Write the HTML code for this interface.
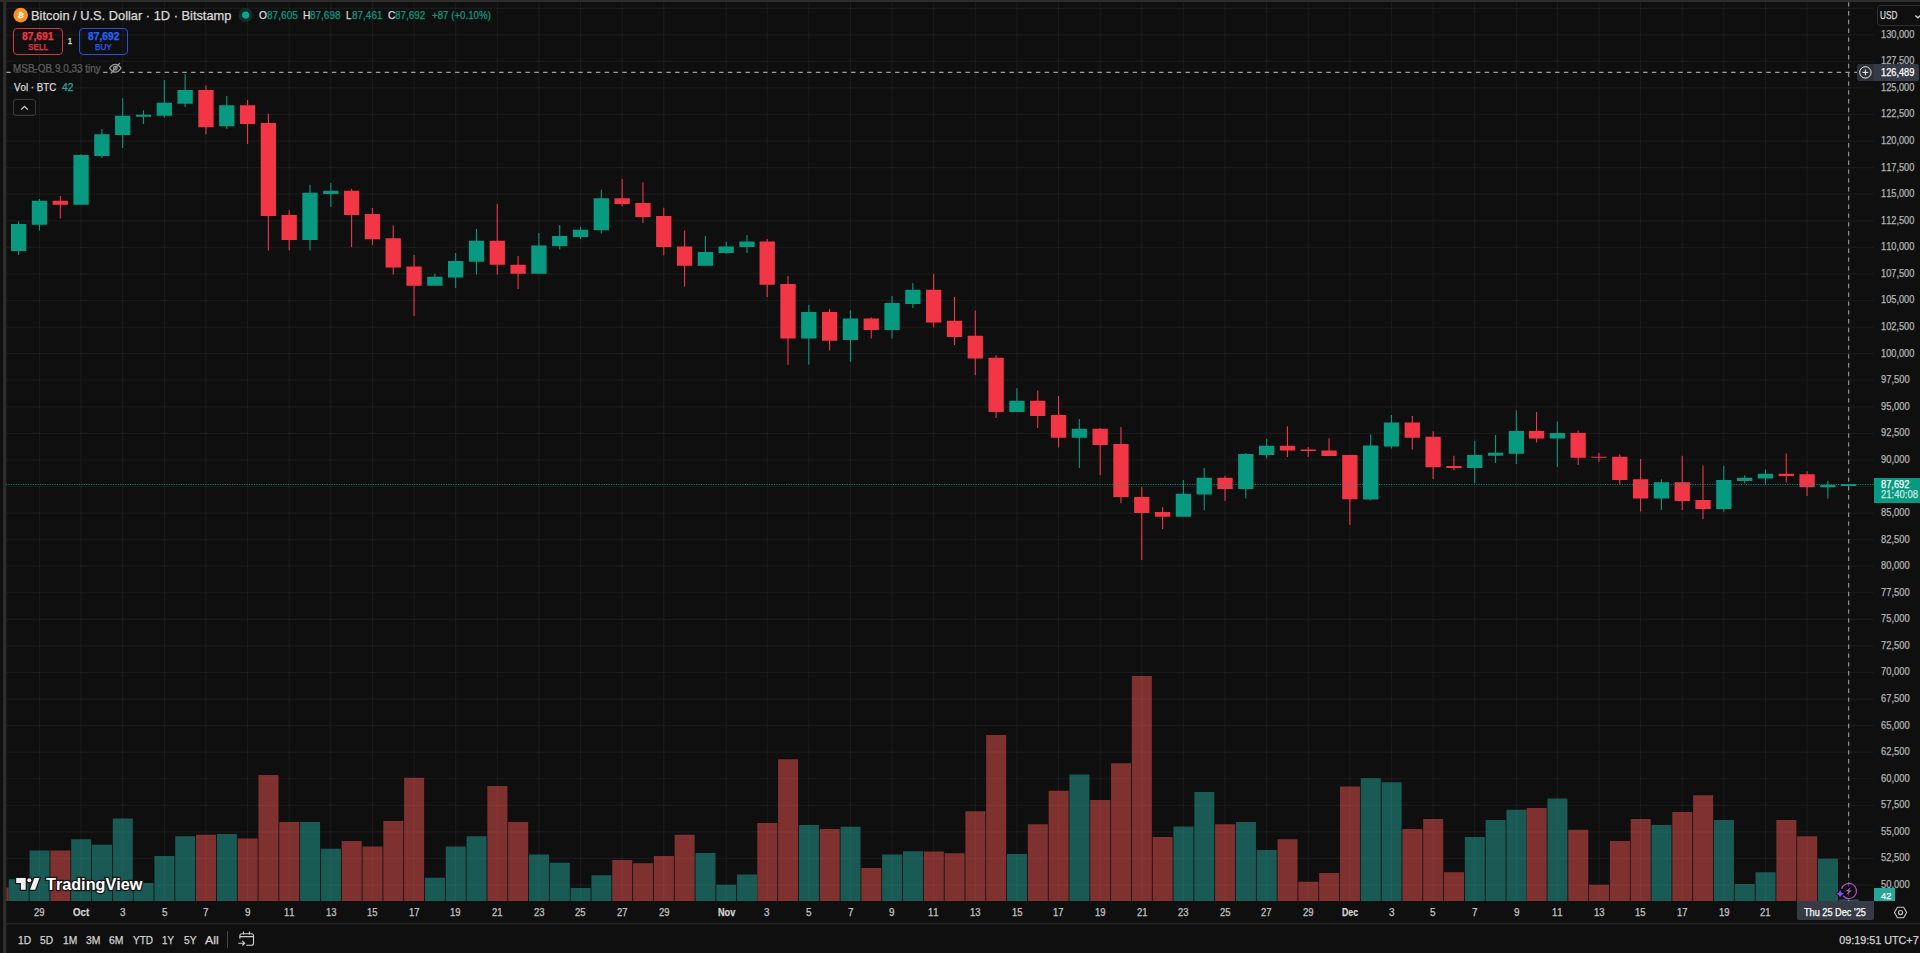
<!DOCTYPE html>
<html lang="en">
<head>
<meta charset="utf-8">
<title>BTCUSD 87,692 — Bitcoin / U.S. Dollar</title>
<style>
html,body{margin:0;padding:0;background:#0f0f0f;}
body{width:1920px;height:953px;overflow:hidden;position:relative;font-family:"Liberation Sans",sans-serif;}
.chart{position:absolute;left:0;top:0;display:block;}
.t{position:absolute;white-space:nowrap;line-height:16px;height:16px;font-kerning:none;transform-origin:0 50%;-webkit-text-stroke:0.25px currentColor;}
.box{position:absolute;box-sizing:border-box;}
svg.ic{position:absolute;overflow:visible;}
</style>
</head>
<body>
<svg class="chart" width="1920" height="953" viewBox="0 0 1920 953">
<rect x="0" y="0" width="1920" height="953" fill="#0f0f0f"/>
<path d="M6.3 8.40H1873.5 M6.3 34.80H1873.5 M6.3 61.37H1873.5 M6.3 87.94H1873.5 M6.3 114.51H1873.5 M6.3 141.08H1873.5 M6.3 167.65H1873.5 M6.3 194.22H1873.5 M6.3 220.79H1873.5 M6.3 247.36H1873.5 M6.3 273.93H1873.5 M6.3 300.50H1873.5 M6.3 327.07H1873.5 M6.3 353.64H1873.5 M6.3 380.21H1873.5 M6.3 406.78H1873.5 M6.3 433.35H1873.5 M6.3 459.92H1873.5 M6.3 486.49H1873.5 M6.3 513.06H1873.5 M6.3 539.63H1873.5 M6.3 566.20H1873.5 M6.3 592.77H1873.5 M6.3 619.34H1873.5 M6.3 645.91H1873.5 M6.3 672.48H1873.5 M6.3 699.05H1873.5 M6.3 725.62H1873.5 M6.3 752.19H1873.5 M6.3 778.76H1873.5 M6.3 805.33H1873.5 M6.3 831.90H1873.5 M6.3 858.47H1873.5 M6.3 885.04H1873.5" stroke="#fff" stroke-opacity="0.046" stroke-width="1.2" fill="none"/>
<path d="M39.46 2V901 M81.08 2V901 M122.70 2V901 M164.32 2V901 M205.94 2V901 M247.56 2V901 M289.18 2V901 M330.80 2V901 M372.42 2V901 M414.04 2V901 M455.66 2V901 M497.28 2V901 M538.90 2V901 M580.52 2V901 M622.14 2V901 M663.76 2V901 M726.19 2V901 M767.19 2V901 M808.81 2V901 M850.43 2V901 M892.05 2V901 M933.67 2V901 M975.29 2V901 M1016.91 2V901 M1058.53 2V901 M1100.15 2V901 M1141.77 2V901 M1183.39 2V901 M1225.01 2V901 M1266.63 2V901 M1308.25 2V901 M1349.87 2V901 M1391.49 2V901 M1433.11 2V901 M1474.73 2V901 M1516.35 2V901 M1557.35 2V901 M1598.97 2V901 M1640.59 2V901 M1682.21 2V901 M1723.83 2V901 M1765.45 2V901 M1807.07 2V901 M1848.69 2V901" stroke="#fff" stroke-opacity="0.046" stroke-width="1.2" fill="none"/>
<path d="M8.75 879.3H28.75V901H8.75Z M29.56 850.6H49.56V901H29.56Z M71.18 839.3H91.18V901H71.18Z M91.99 844.8H111.99V901H91.99Z M112.80 818.6H132.80V901H112.80Z M133.61 883.1H153.61V901H133.61Z M154.42 856.1H174.42V901H154.42Z M175.23 836.2H195.23V901H175.23Z M216.85 834.0H236.85V901H216.85Z M300.09 821.9H320.09V901H300.09Z M320.90 848.8H340.90V901H320.90Z M424.95 877.8H444.95V901H424.95Z M445.76 846.6H465.76V901H445.76Z M466.57 836.2H486.57V901H466.57Z M529.00 854.4H549.00V901H529.00Z M549.81 862.7H569.81V901H549.81Z M570.62 887.9H590.62V901H570.62Z M591.43 875.3H611.43V901H591.43Z M695.48 852.9H715.48V901H695.48Z M716.29 884.8H736.29V901H716.29Z M737.10 874.5H757.10V901H737.10Z M798.91 824.9H818.91V901H798.91Z M840.53 826.7H860.53V901H840.53Z M882.15 854.6H902.15V901H882.15Z M902.96 851.3H922.96V901H902.96Z M1007.01 853.9H1027.01V901H1007.01Z M1069.44 774.6H1089.44V901H1069.44Z M1173.49 826.5H1193.49V901H1173.49Z M1194.30 792.0H1214.30V901H1194.30Z M1235.92 821.9H1255.92V901H1235.92Z M1256.73 849.9H1276.73V901H1256.73Z M1360.78 778.3H1380.78V901H1360.78Z M1381.59 782.3H1401.59V901H1381.59Z M1464.83 837.0H1484.83V901H1464.83Z M1485.64 820.1H1505.64V901H1485.64Z M1506.45 809.8H1526.45V901H1506.45Z M1547.45 798.5H1567.45V901H1547.45Z M1651.50 824.9H1671.50V901H1651.50Z M1713.93 820.1H1733.93V901H1713.93Z M1734.74 884.1H1754.74V901H1734.74Z M1755.55 872.2H1775.55V901H1755.55Z M1817.98 858.7H1837.98V901H1817.98Z M1838.79 899.4H1858.79V901H1838.79Z" fill="#26a69a" fill-opacity="0.5"/>
<path d="M6.3 887.6H8.6V901H6.3Z M50.37 850.6H70.37V901H50.37Z M196.04 834.7H216.04V901H196.04Z M237.66 838.5H257.66V901H237.66Z M258.47 775.0H278.47V901H258.47Z M279.28 821.9H299.28V901H279.28Z M341.71 841.0H361.71V901H341.71Z M362.52 846.6H382.52V901H362.52Z M383.33 820.9H403.33V901H383.33Z M404.14 777.8H424.14V901H404.14Z M487.38 785.9H507.38V901H487.38Z M508.19 821.9H528.19V901H508.19Z M612.24 859.9H632.24V901H612.24Z M633.05 863.2H653.05V901H633.05Z M653.86 856.1H673.86V901H653.86Z M674.67 834.7H694.67V901H674.67Z M757.29 823.1H777.29V901H757.29Z M778.10 759.2H798.10V901H778.10Z M819.72 828.9H839.72V901H819.72Z M861.34 868.0H881.34V901H861.34Z M923.77 851.4H943.77V901H923.77Z M944.58 853.2H964.58V901H944.58Z M965.39 811.3H985.39V901H965.39Z M986.20 735.0H1006.20V901H986.20Z M1027.82 824.2H1047.82V901H1027.82Z M1048.63 790.7H1068.63V901H1048.63Z M1090.25 800.0H1110.25V901H1090.25Z M1111.06 763.2H1131.06V901H1111.06Z M1131.87 676.1H1151.87V901H1131.87Z M1152.68 837.0H1172.68V901H1152.68Z M1215.11 824.2H1235.11V901H1215.11Z M1277.54 839.3H1297.54V901H1277.54Z M1298.35 881.8H1318.35V901H1298.35Z M1319.16 873.0H1339.16V901H1319.16Z M1339.97 786.6H1359.97V901H1339.97Z M1402.40 828.9H1422.40V901H1402.40Z M1423.21 819.1H1443.21V901H1423.21Z M1444.02 872.2H1464.02V901H1444.02Z M1526.64 808.0H1546.64V901H1526.64Z M1568.26 829.7H1588.26V901H1568.26Z M1589.07 884.8H1609.07V901H1589.07Z M1609.88 841.0H1629.88V901H1609.88Z M1630.69 819.1H1650.69V901H1630.69Z M1672.31 812.1H1692.31V901H1672.31Z M1693.12 795.2H1713.12V901H1693.12Z M1776.36 820.1H1796.36V901H1776.36Z M1797.17 836.2H1817.17V901H1797.17Z" fill="#ef5350" fill-opacity="0.5"/>
<path d="M18.10 221.6h1.1V255.0h-1.1Z M11.00 224.1h15.3V251.0h-15.3Z M38.91 199.0h1.1V230.4h-1.1Z M31.81 200.8h15.3V224.8h-15.3Z M80.53 154.1h1.1V204.8h-1.1Z M73.43 154.9h15.3V204.8h-15.3Z M101.34 129.0h1.1V158.0h-1.1Z M94.24 134.2h15.3V155.9h-15.3Z M122.15 98.2h1.1V148.0h-1.1Z M115.05 115.8h15.3V135.0h-15.3Z M142.96 110.3h1.1V123.9h-1.1Z M135.86 114.8h15.3V116.8h-15.3Z M163.77 80.0h1.1V117.6h-1.1Z M156.67 102.7h15.3V115.8h-15.3Z M184.58 74.3h1.1V107.0h-1.1Z M177.48 89.9h15.3V103.8h-15.3Z M226.20 96.0h1.1V128.7h-1.1Z M219.10 105.3h15.3V126.2h-15.3Z M309.44 184.8h1.1V250.5h-1.1Z M302.34 192.8h15.3V239.9h-15.3Z M330.25 183.0h1.1V207.0h-1.1Z M323.15 190.8h15.3V193.9h-15.3Z M434.30 273.7h1.1V285.8h-1.1Z M427.20 276.7h15.3V285.8h-15.3Z M455.11 253.1h1.1V288.0h-1.1Z M448.01 261.0h15.3V277.6h-15.3Z M475.92 228.9h1.1V274.5h-1.1Z M468.82 240.8h15.3V261.7h-15.3Z M538.35 233.0h1.1V273.8h-1.1Z M531.25 245.6h15.3V273.8h-15.3Z M559.16 225.0h1.1V249.6h-1.1Z M552.06 236.0h15.3V246.1h-15.3Z M579.97 226.7h1.1V239.3h-1.1Z M572.87 229.8h15.3V237.0h-15.3Z M600.78 189.7h1.1V233.8h-1.1Z M593.68 198.3h15.3V230.3h-15.3Z M704.83 236.0h1.1V265.8h-1.1Z M697.73 251.9h15.3V265.8h-15.3Z M725.64 241.8h1.1V253.7h-1.1Z M718.54 246.4h15.3V252.9h-15.3Z M746.45 235.0h1.1V252.9h-1.1Z M739.35 241.6h15.3V247.1h-15.3Z M808.26 305.0h1.1V364.7h-1.1Z M801.16 312.1h15.3V338.5h-15.3Z M849.88 310.3h1.1V361.7h-1.1Z M842.78 318.4h15.3V340.0h-15.3Z M891.50 296.0h1.1V338.5h-1.1Z M884.40 303.0h15.3V330.0h-15.3Z M912.31 283.1h1.1V308.0h-1.1Z M905.21 289.7h15.3V304.0h-15.3Z M1016.36 388.2h1.1V412.1h-1.1Z M1009.26 400.8h15.3V412.1h-15.3Z M1078.79 419.1h1.1V468.0h-1.1Z M1071.69 428.7h15.3V437.8h-15.3Z M1182.84 480.1h1.1V516.8h-1.1Z M1175.74 493.7h15.3V516.8h-15.3Z M1203.65 468.0h1.1V510.3h-1.1Z M1196.55 477.8h15.3V494.6h-15.3Z M1245.27 452.9h1.1V498.6h-1.1Z M1238.17 454.1h15.3V488.9h-15.3Z M1266.08 439.0h1.1V458.4h-1.1Z M1258.98 445.7h15.3V455.1h-15.3Z M1370.13 434.5h1.1V500.2h-1.1Z M1363.03 445.6h15.3V499.5h-15.3Z M1390.94 415.1h1.1V448.6h-1.1Z M1383.84 422.4h15.3V446.6h-15.3Z M1474.18 440.7h1.1V483.2h-1.1Z M1467.08 455.0h15.3V468.1h-15.3Z M1494.99 435.0h1.1V463.1h-1.1Z M1487.89 452.8h15.3V455.8h-15.3Z M1515.80 410.2h1.1V464.0h-1.1Z M1508.70 431.1h15.3V453.7h-15.3Z M1556.80 421.6h1.1V467.1h-1.1Z M1549.70 432.9h15.3V438.4h-15.3Z M1660.85 479.2h1.1V509.9h-1.1Z M1653.75 482.2h15.3V498.4h-15.3Z M1723.28 466.1h1.1V511.7h-1.1Z M1716.18 480.0h15.3V508.9h-15.3Z M1744.09 475.2h1.1V483.2h-1.1Z M1736.99 477.7h15.3V481.0h-15.3Z M1764.90 469.6h1.1V484.5h-1.1Z M1757.80 473.7h15.3V478.5h-15.3Z M1827.33 480.8h1.1V498.5h-1.1Z M1820.23 484.8h15.3V487.2h-15.3Z M1848.14 484.0h1.1V486.0h-1.1Z M1841.04 484.0h15.3V486.0h-15.3Z" fill="#089981"/>
<path d="M59.72 196.0h1.1V218.5h-1.1Z M52.62 200.8h15.3V204.8h-15.3Z M205.39 85.6h1.1V134.2h-1.1Z M198.29 89.9h15.3V127.2h-15.3Z M247.01 100.0h1.1V144.0h-1.1Z M239.91 105.3h15.3V123.9h-15.3Z M267.82 113.8h1.1V250.5h-1.1Z M260.72 122.9h15.3V216.0h-15.3Z M288.63 210.2h1.1V250.5h-1.1Z M281.53 215.0h15.3V239.9h-15.3Z M351.06 188.8h1.1V247.2h-1.1Z M343.96 190.8h15.3V215.0h-15.3Z M371.87 208.0h1.1V245.0h-1.1Z M364.77 214.0h15.3V239.2h-15.3Z M392.68 225.6h1.1V274.4h-1.1Z M385.58 238.2h15.3V267.4h-15.3Z M413.49 255.0h1.1V316.0h-1.1Z M406.39 266.4h15.3V285.8h-15.3Z M496.73 204.1h1.1V274.6h-1.1Z M489.63 240.8h15.3V264.8h-15.3Z M517.54 256.0h1.1V288.9h-1.1Z M510.44 264.8h15.3V273.8h-15.3Z M621.59 178.9h1.1V206.6h-1.1Z M614.49 198.3h15.3V204.0h-15.3Z M642.40 182.2h1.1V223.0h-1.1Z M635.30 203.0h15.3V216.9h-15.3Z M663.21 207.8h1.1V255.2h-1.1Z M656.11 215.9h15.3V247.1h-15.3Z M684.02 230.5h1.1V286.4h-1.1Z M676.92 246.4h15.3V265.8h-15.3Z M766.64 239.0h1.1V297.0h-1.1Z M759.54 241.6h15.3V284.7h-15.3Z M787.45 276.0h1.1V364.7h-1.1Z M780.35 283.9h15.3V338.5h-15.3Z M829.07 308.8h1.1V350.6h-1.1Z M821.97 312.1h15.3V340.8h-15.3Z M870.69 317.6h1.1V338.5h-1.1Z M863.59 318.4h15.3V330.0h-15.3Z M933.12 273.9h1.1V327.2h-1.1Z M926.02 289.7h15.3V322.5h-15.3Z M953.93 297.0h1.1V345.1h-1.1Z M946.83 320.7h15.3V337.1h-15.3Z M974.74 310.4h1.1V375.3h-1.1Z M967.64 335.8h15.3V358.5h-15.3Z M995.55 355.2h1.1V417.9h-1.1Z M988.45 357.7h15.3V412.1h-15.3Z M1037.17 390.4h1.1V428.0h-1.1Z M1030.07 400.8h15.3V416.1h-15.3Z M1057.98 396.0h1.1V447.4h-1.1Z M1050.88 415.1h15.3V437.8h-15.3Z M1099.60 428.0h1.1V475.3h-1.1Z M1092.50 428.7h15.3V445.1h-15.3Z M1120.41 426.9h1.1V503.2h-1.1Z M1113.31 444.0h15.3V497.0h-15.3Z M1141.22 487.3h1.1V559.9h-1.1Z M1134.12 497.0h15.3V513.1h-15.3Z M1162.03 507.3h1.1V528.9h-1.1Z M1154.93 512.1h15.3V516.8h-15.3Z M1224.46 475.8h1.1V501.0h-1.1Z M1217.36 477.8h15.3V488.9h-15.3Z M1286.89 426.2h1.1V456.9h-1.1Z M1279.79 445.7h15.3V450.6h-15.3Z M1307.70 447.0h1.1V456.9h-1.1Z M1300.60 449.6h15.3V451.1h-15.3Z M1328.51 438.3h1.1V456.0h-1.1Z M1321.41 450.5h15.3V456.0h-15.3Z M1349.32 455.1h1.1V524.9h-1.1Z M1342.22 455.1h15.3V499.3h-15.3Z M1411.75 415.9h1.1V449.6h-1.1Z M1404.65 422.4h15.3V437.8h-15.3Z M1432.56 431.2h1.1V479.1h-1.1Z M1425.46 436.8h15.3V467.2h-15.3Z M1453.37 455.8h1.1V470.6h-1.1Z M1446.27 466.1h15.3V468.1h-15.3Z M1535.99 411.9h1.1V442.4h-1.1Z M1528.89 431.1h15.3V438.4h-15.3Z M1577.61 430.4h1.1V464.9h-1.1Z M1570.51 432.9h15.3V457.8h-15.3Z M1598.42 452.8h1.1V461.8h-1.1Z M1591.32 456.8h15.3V457.8h-15.3Z M1619.23 454.3h1.1V484.5h-1.1Z M1612.13 456.8h15.3V480.0h-15.3Z M1640.04 459.1h1.1V511.5h-1.1Z M1632.94 479.2h15.3V498.4h-15.3Z M1681.66 455.8h1.1V509.9h-1.1Z M1674.56 482.2h15.3V500.9h-15.3Z M1702.47 465.6h1.1V519.3h-1.1Z M1695.37 500.1h15.3V508.9h-15.3Z M1785.71 453.5h1.1V482.5h-1.1Z M1778.61 473.7h15.3V475.9h-15.3Z M1806.52 471.2h1.1V496.0h-1.1Z M1799.42 474.3h15.3V487.3h-15.3Z" fill="#f23645"/>
<path d="M6 484.5H1874" stroke="#089981" stroke-width="1" stroke-dasharray="1.1 1.33" stroke-opacity="0.9" fill="none"/>
<path d="M6.3 72.4H1857" stroke="#9e9e9e" stroke-width="1.1" stroke-dasharray="4.4 4.4" fill="none"/>
<path d="M1848.69 2.2V901" stroke="#9e9e9e" stroke-width="1.1" stroke-dasharray="4.4 4.4" fill="none"/>
<path d="M6.3 923.8H1920" stroke="#242424" stroke-width="1.6" fill="none"/>
<rect x="0" y="0" width="1920" height="2" fill="#2e2e2e"/>
<rect x="3.1" y="0" width="3.2" height="953" fill="#2e2e2e"/>
</svg>
<div class="axis-labels">
<span class="t" id="p130000" style="left:1881.15px;top:26.75px;font-size:10px;color:#b4b4b4;transform:scaleX(0.924);">130,000</span>
<span class="t" id="p127500" style="left:1881.15px;top:53.32px;font-size:10px;color:#b4b4b4;transform:scaleX(0.924);">127,500</span>
<span class="t" id="p125000" style="left:1881.15px;top:79.89px;font-size:10px;color:#b4b4b4;transform:scaleX(0.924);">125,000</span>
<span class="t" id="p122500" style="left:1881.15px;top:106.46px;font-size:10px;color:#b4b4b4;transform:scaleX(0.924);">122,500</span>
<span class="t" id="p120000" style="left:1881.15px;top:133.03px;font-size:10px;color:#b4b4b4;transform:scaleX(0.924);">120,000</span>
<span class="t" id="p117500" style="left:1881.15px;top:159.60px;font-size:10px;color:#b4b4b4;transform:scaleX(0.924);">117,500</span>
<span class="t" id="p115000" style="left:1881.15px;top:186.17px;font-size:10px;color:#b4b4b4;transform:scaleX(0.924);">115,000</span>
<span class="t" id="p112500" style="left:1881.15px;top:212.74px;font-size:10px;color:#b4b4b4;transform:scaleX(0.924);">112,500</span>
<span class="t" id="p110000" style="left:1881.15px;top:239.31px;font-size:10px;color:#b4b4b4;transform:scaleX(0.924);">110,000</span>
<span class="t" id="p107500" style="left:1881.15px;top:265.88px;font-size:10px;color:#b4b4b4;transform:scaleX(0.924);">107,500</span>
<span class="t" id="p105000" style="left:1881.15px;top:292.45px;font-size:10px;color:#b4b4b4;transform:scaleX(0.924);">105,000</span>
<span class="t" id="p102500" style="left:1881.15px;top:319.02px;font-size:10px;color:#b4b4b4;transform:scaleX(0.924);">102,500</span>
<span class="t" id="p100000" style="left:1881.15px;top:345.59px;font-size:10px;color:#b4b4b4;transform:scaleX(0.924);">100,000</span>
<span class="t" id="p97500" style="left:1881.15px;top:372.16px;font-size:10px;color:#b4b4b4;transform:scaleX(0.935);">97,500</span>
<span class="t" id="p95000" style="left:1881.15px;top:398.73px;font-size:10px;color:#b4b4b4;transform:scaleX(0.935);">95,000</span>
<span class="t" id="p92500" style="left:1881.15px;top:425.30px;font-size:10px;color:#b4b4b4;transform:scaleX(0.935);">92,500</span>
<span class="t" id="p90000" style="left:1881.15px;top:451.87px;font-size:10px;color:#b4b4b4;transform:scaleX(0.935);">90,000</span>
<span class="t" id="p85000" style="left:1881.15px;top:505.01px;font-size:10px;color:#b4b4b4;transform:scaleX(0.935);">85,000</span>
<span class="t" id="p82500" style="left:1881.15px;top:531.58px;font-size:10px;color:#b4b4b4;transform:scaleX(0.935);">82,500</span>
<span class="t" id="p80000" style="left:1881.15px;top:558.15px;font-size:10px;color:#b4b4b4;transform:scaleX(0.935);">80,000</span>
<span class="t" id="p77500" style="left:1881.15px;top:584.72px;font-size:10px;color:#b4b4b4;transform:scaleX(0.935);">77,500</span>
<span class="t" id="p75000" style="left:1881.15px;top:611.29px;font-size:10px;color:#b4b4b4;transform:scaleX(0.935);">75,000</span>
<span class="t" id="p72500" style="left:1881.15px;top:637.86px;font-size:10px;color:#b4b4b4;transform:scaleX(0.935);">72,500</span>
<span class="t" id="p70000" style="left:1881.15px;top:664.43px;font-size:10px;color:#b4b4b4;transform:scaleX(0.935);">70,000</span>
<span class="t" id="p67500" style="left:1881.15px;top:691.00px;font-size:10px;color:#b4b4b4;transform:scaleX(0.935);">67,500</span>
<span class="t" id="p65000" style="left:1881.15px;top:717.57px;font-size:10px;color:#b4b4b4;transform:scaleX(0.935);">65,000</span>
<span class="t" id="p62500" style="left:1881.15px;top:744.14px;font-size:10px;color:#b4b4b4;transform:scaleX(0.935);">62,500</span>
<span class="t" id="p60000" style="left:1881.15px;top:770.71px;font-size:10px;color:#b4b4b4;transform:scaleX(0.935);">60,000</span>
<span class="t" id="p57500" style="left:1881.15px;top:797.28px;font-size:10px;color:#b4b4b4;transform:scaleX(0.935);">57,500</span>
<span class="t" id="p55000" style="left:1881.15px;top:823.85px;font-size:10px;color:#b4b4b4;transform:scaleX(0.935);">55,000</span>
<span class="t" id="p52500" style="left:1881.15px;top:850.42px;font-size:10px;color:#b4b4b4;transform:scaleX(0.935);">52,500</span>
<span class="t" id="p50000" style="left:1881.15px;top:876.99px;font-size:10px;color:#b4b4b4;transform:scaleX(0.935);">50,000</span>
<span class="t" id="d1" style="left:34.21px;top:904.60px;font-size:10px;color:#c4c4c4;transform:scaleX(0.944);">29</span>
<span class="t" id="d3" style="left:73.03px;top:904.60px;font-size:10px;color:#d2d2d2;font-weight:700;transform:scaleX(0.966);">Oct</span>
<span class="t" id="d5" style="left:119.95px;top:904.60px;font-size:10px;color:#c4c4c4;transform:scaleX(0.989);">3</span>
<span class="t" id="d7" style="left:161.57px;top:904.60px;font-size:10px;color:#c4c4c4;transform:scaleX(0.989);">5</span>
<span class="t" id="d9" style="left:203.19px;top:904.60px;font-size:10px;color:#c4c4c4;transform:scaleX(0.989);">7</span>
<span class="t" id="d11" style="left:244.81px;top:904.60px;font-size:10px;color:#c4c4c4;transform:scaleX(0.989);">9</span>
<span class="t" id="d13" style="left:283.93px;top:904.60px;font-size:10px;color:#c4c4c4;transform:scaleX(0.944);">11</span>
<span class="t" id="d15" style="left:325.55px;top:904.60px;font-size:10px;color:#c4c4c4;transform:scaleX(0.944);">13</span>
<span class="t" id="d17" style="left:367.17px;top:904.60px;font-size:10px;color:#c4c4c4;transform:scaleX(0.944);">15</span>
<span class="t" id="d19" style="left:408.79px;top:904.60px;font-size:10px;color:#c4c4c4;transform:scaleX(0.944);">17</span>
<span class="t" id="d21" style="left:450.41px;top:904.60px;font-size:10px;color:#c4c4c4;transform:scaleX(0.944);">19</span>
<span class="t" id="d23" style="left:492.03px;top:904.60px;font-size:10px;color:#c4c4c4;transform:scaleX(0.944);">21</span>
<span class="t" id="d25" style="left:533.65px;top:904.60px;font-size:10px;color:#c4c4c4;transform:scaleX(0.944);">23</span>
<span class="t" id="d27" style="left:575.27px;top:904.60px;font-size:10px;color:#c4c4c4;transform:scaleX(0.944);">25</span>
<span class="t" id="d29" style="left:616.89px;top:904.60px;font-size:10px;color:#c4c4c4;transform:scaleX(0.944);">27</span>
<span class="t" id="d31" style="left:658.51px;top:904.60px;font-size:10px;color:#c4c4c4;transform:scaleX(0.944);">29</span>
<span class="t" id="d34" style="left:717.54px;top:904.60px;font-size:10px;color:#d2d2d2;font-weight:700;transform:scaleX(0.915);">Nov</span>
<span class="t" id="d36" style="left:764.44px;top:904.60px;font-size:10px;color:#c4c4c4;transform:scaleX(0.989);">3</span>
<span class="t" id="d38" style="left:806.06px;top:904.60px;font-size:10px;color:#c4c4c4;transform:scaleX(0.989);">5</span>
<span class="t" id="d40" style="left:847.68px;top:904.60px;font-size:10px;color:#c4c4c4;transform:scaleX(0.989);">7</span>
<span class="t" id="d42" style="left:889.30px;top:904.60px;font-size:10px;color:#c4c4c4;transform:scaleX(0.989);">9</span>
<span class="t" id="d44" style="left:928.42px;top:904.60px;font-size:10px;color:#c4c4c4;transform:scaleX(0.944);">11</span>
<span class="t" id="d46" style="left:970.04px;top:904.60px;font-size:10px;color:#c4c4c4;transform:scaleX(0.944);">13</span>
<span class="t" id="d48" style="left:1011.66px;top:904.60px;font-size:10px;color:#c4c4c4;transform:scaleX(0.944);">15</span>
<span class="t" id="d50" style="left:1053.28px;top:904.60px;font-size:10px;color:#c4c4c4;transform:scaleX(0.944);">17</span>
<span class="t" id="d52" style="left:1094.90px;top:904.60px;font-size:10px;color:#c4c4c4;transform:scaleX(0.944);">19</span>
<span class="t" id="d54" style="left:1136.52px;top:904.60px;font-size:10px;color:#c4c4c4;transform:scaleX(0.944);">21</span>
<span class="t" id="d56" style="left:1178.14px;top:904.60px;font-size:10px;color:#c4c4c4;transform:scaleX(0.944);">23</span>
<span class="t" id="d58" style="left:1219.76px;top:904.60px;font-size:10px;color:#c4c4c4;transform:scaleX(0.944);">25</span>
<span class="t" id="d60" style="left:1261.38px;top:904.60px;font-size:10px;color:#c4c4c4;transform:scaleX(0.944);">27</span>
<span class="t" id="d62" style="left:1303.00px;top:904.60px;font-size:10px;color:#c4c4c4;transform:scaleX(0.944);">29</span>
<span class="t" id="d64" style="left:1341.82px;top:904.60px;font-size:10px;color:#d2d2d2;font-weight:700;transform:scaleX(0.877);">Dec</span>
<span class="t" id="d66" style="left:1388.74px;top:904.60px;font-size:10px;color:#c4c4c4;transform:scaleX(0.989);">3</span>
<span class="t" id="d68" style="left:1430.36px;top:904.60px;font-size:10px;color:#c4c4c4;transform:scaleX(0.989);">5</span>
<span class="t" id="d70" style="left:1471.98px;top:904.60px;font-size:10px;color:#c4c4c4;transform:scaleX(0.989);">7</span>
<span class="t" id="d72" style="left:1513.60px;top:904.60px;font-size:10px;color:#c4c4c4;transform:scaleX(0.989);">9</span>
<span class="t" id="d74" style="left:1552.10px;top:904.60px;font-size:10px;color:#c4c4c4;transform:scaleX(0.944);">11</span>
<span class="t" id="d76" style="left:1593.72px;top:904.60px;font-size:10px;color:#c4c4c4;transform:scaleX(0.944);">13</span>
<span class="t" id="d78" style="left:1635.34px;top:904.60px;font-size:10px;color:#c4c4c4;transform:scaleX(0.944);">15</span>
<span class="t" id="d80" style="left:1676.96px;top:904.60px;font-size:10px;color:#c4c4c4;transform:scaleX(0.944);">17</span>
<span class="t" id="d82" style="left:1718.58px;top:904.60px;font-size:10px;color:#c4c4c4;transform:scaleX(0.944);">19</span>
<span class="t" id="d84" style="left:1760.20px;top:904.60px;font-size:10px;color:#c4c4c4;transform:scaleX(0.944);">21</span>
</div>
<div class="box" id="msb_bg" style="left:12px;top:61px;width:90.5px;height:14px;background:rgba(15,15,15,0.68);border-radius:2px;"></div>
<div class="box" id="eye_bg" style="left:108px;top:61px;width:14.2px;height:14px;background:rgba(15,15,15,0.8);border-radius:2px;"></div>
<div class="box" id="sellbtn" style="left:13px;top:28px;width:50px;height:27px;border:1px solid #d93140;border-radius:4px;"></div>
<div class="box" id="buybtn" style="left:79px;top:28px;width:49px;height:27px;border:1px solid #2553e0;border-radius:4px;"></div>
<div class="box" id="collapse" style="left:13px;top:99px;width:23px;height:17px;border:1px solid #3a3a3a;border-radius:3px;"></div>
<div class="box" id="usdbox" style="left:1876.5px;top:5px;width:50px;height:21.4px;border:1.5px solid #2f2f2f;border-radius:3.5px;"></div>
<div class="box" id="xh_plus" style="left:1857px;top:64px;width:17px;height:17px;background:#2c303b;border-radius:2px 0 0 2px;"></div>
<div class="box" id="xh_box" style="left:1874px;top:64px;width:45px;height:17px;background:#363a45;border-radius:0 2px 2px 0;"></div>
<div class="box" id="cur_box" style="left:1874px;top:478px;width:46px;height:25px;background:#089981;"></div>
<div class="box" id="vol_box" style="left:1874.4px;top:888.1px;width:21px;height:12.9px;background:#26a69a;"></div>
<div class="box" id="date_box" style="left:1797px;top:901px;width:76.6px;height:19.2px;background:#363a45;border-radius:0 0 2px 2px;"></div>
<svg class="ic" style="left:0;top:0" width="1920" height="953" viewBox="0 0 1920 953">
<!-- bitcoin logo -->
<circle cx="20.7" cy="15.1" r="7.3" fill="#f7931a"/>
<text x="20.8" y="17.8" font-family="Liberation Sans, sans-serif" font-weight="700" font-size="7.6" fill="#fff" text-anchor="middle" transform="rotate(13 20.7 15.1)">₿</text>
<!-- status dot -->
<circle cx="245.6" cy="15.1" r="7.2" fill="#089981" fill-opacity="0.2"/>
<circle cx="245.6" cy="15.1" r="3.55" fill="#0da88c"/>
<!-- eye slash -->
<g fill="none" stroke="#9a9a9a" stroke-width="1.25" stroke-linecap="round">
<path d="M109.6 68.2c1.6-2.6 3.5-3.9 5.7-3.9s4.100 1.3 5.700 3.900c-1.600 2.600-3.500 3.900-5.700 3.900s-4.100-1.300-5.700-3.900z"/>
<circle cx="115.300" cy="68.200" r="1.800"/>
<path d="M111.200 73 119.600 63.300"/>
</g>
<!-- collapse chevron -->
<path d="M21.200 109.600 24.500 106.300 27.800 109.600" fill="none" stroke="#d0d0d0" stroke-width="1.300"/>
<!-- USD chevron -->
<path d="M1915.3 15.4 1917.9 17.7 1920.5 15.4" fill="none" stroke="#d4d4d4" stroke-width="1.4"/>
<!-- crosshair plus -->
<circle cx="1865.400" cy="72.400" r="5.700" fill="none" stroke="#f0f0f0" stroke-width="1"/>
<path d="M1862.500 72.400h5.800M1865.400 69.500v5.800" stroke="#f0f0f0" stroke-width="1" fill="none"/>
<!-- purple flash icon -->
<circle cx="1848.9" cy="891" r="8.6" fill="#0c0c0c" fill-opacity="0.55"/>
<path d="M1841.63 888.8A7.6 7.6 0 1 1 1842.96 895.74" fill="none" stroke="#b34cc9" stroke-width="1.25"/>
<path d="M1851 887 1845.6 891.3H1848.6L1846.1 895.1 1851.9 890.6H1848.9Z" fill="#c352da"/>
<path d="M1840.1 889.8Q1840.85 893.05 1844.3 893.8Q1840.85 894.55 1840.1 897.8Q1839.35 894.55 1835.8999999999999 893.8Q1839.35 893.05 1840.1 889.8Z" fill="#7c4dff" stroke="#0d0d0d" stroke-width="1.4" paint-order="stroke"/>
<!-- settings hexagon -->
<path d="M1894.45 912.5 1897.5 907.25h6.100l3.050 5.250-3.050 5.250h-6.100z" fill="none" stroke="#c4c4c4" stroke-width="1.150" stroke-linejoin="round"/>
<circle cx="1900.550" cy="912.550" r="2.050" fill="none" stroke="#c4c4c4" stroke-width="1.150"/>
<!-- toolbar separator -->
<path d="M227.500 931V948" stroke="#454545" stroke-width="1" fill="none"/>
<!-- calendar goto icon -->
<g fill="none" stroke="#d0d0d0" stroke-width="1.100">
<path d="M239.900 938.700V935.700a2 2 0 0 1 2-2h9.600a2 2 0 0 1 2 2v7.600a2 2 0 0 1-2 2H246.300"/>
<path d="M239.900 936.600H253.500M243.500 931.500v3M249.400 931.500v3"/>
<path d="M238.300 943.200h6.200M242.300 940.900l2.300 2.300-2.300 2.300"/>
</g>
<!-- TradingView logo mark -->
<g fill="#f2f2f2" stroke="#151515" stroke-width="2.400" paint-order="stroke" stroke-linejoin="round">
<path d="M16.200 878H25.700V889.700H20.900V883.100H16.200z"/>
<circle cx="29.300" cy="880.200" r="2"/>
<path d="M34.400 878H39.500L35.200 889.700H30z"/>
</g>
</svg>

<div class="texts">
<span class="t" id="title" style="left:31.21px;top:7.60px;font-size:12.6px;color:#dbdbdb;transform:scaleX(1.019);">Bitcoin / U.S. Dollar · 1D · Bitstamp</span>
<span class="t" id="o_l" style="left:258.55px;top:7.60px;font-size:10.2px;color:#dbdbdb;transform:scaleX(0.996);">O</span>
<span class="t" id="o_v" style="left:266.65px;top:7.60px;font-size:10.2px;color:#089981;transform:scaleX(0.991);">87,605</span>
<span class="t" id="h_l" style="left:302.75px;top:7.60px;font-size:10.2px;color:#dbdbdb;transform:scaleX(1.006);">H</span>
<span class="t" id="h_v" style="left:310.45px;top:7.60px;font-size:10.2px;color:#089981;transform:scaleX(0.979);">87,698</span>
<span class="t" id="l_l" style="left:346.45px;top:7.60px;font-size:10.2px;color:#dbdbdb;transform:scaleX(0.935);">L</span>
<span class="t" id="l_v" style="left:352.05px;top:7.60px;font-size:10.2px;color:#089981;transform:scaleX(0.979);">87,461</span>
<span class="t" id="c_l" style="left:387.75px;top:7.60px;font-size:10.2px;color:#dbdbdb;transform:scaleX(0.993);">C</span>
<span class="t" id="c_v" style="left:395.35px;top:7.60px;font-size:10.2px;color:#089981;transform:scaleX(0.969);">87,692</span>
<span class="t" id="chg" style="left:431.55px;top:7.60px;font-size:10.2px;color:#089981;transform:scaleX(0.954);">+87 (+0.10%)</span>
<span class="t" id="sell_p" style="left:21.65px;top:28.70px;font-size:10px;color:#f23645;font-weight:700;transform:scaleX(1.030);">87,691</span>
<span class="t" id="sell_l" style="left:27.77px;top:39.40px;font-size:8.9px;color:#f23645;transform:scaleX(0.919);">SELL</span>
<span class="t" id="qty" style="left:68.46px;top:33.00px;font-size:8.5px;color:#dbdbdb;font-weight:700;transform:scaleX(0.820);">1</span>
<span class="t" id="buy_p" style="left:87.65px;top:28.70px;font-size:10px;color:#2962ff;font-weight:700;transform:scaleX(1.030);">87,692</span>
<span class="t" id="buy_l" style="left:95.27px;top:39.40px;font-size:8.9px;color:#2962ff;transform:scaleX(0.913);">BUY</span>
<span class="t" id="msb" style="left:13.25px;top:61.00px;font-size:10.2px;color:#5e5e5e;transform:scaleX(0.974);">MSB-OB 9 0.33 tiny</span>
<span class="t" id="vol" style="left:13.65px;top:80.10px;font-size:10.2px;color:#dbdbdb;transform:scaleX(0.956);">Vol · BTC</span>
<span class="t" id="vol_v" style="left:62.05px;top:80.10px;font-size:10.2px;color:#26a69a;transform:scaleX(1.005);">42</span>
<span class="t" id="r1d" style="left:17.64px;top:931.70px;font-size:10.8px;color:#d4d4d4;transform:scaleX(0.950);">1D</span>
<span class="t" id="r5d" style="left:39.94px;top:931.70px;font-size:10.8px;color:#d4d4d4;transform:scaleX(0.943);">5D</span>
<span class="t" id="r1m" style="left:62.54px;top:931.70px;font-size:10.8px;color:#d4d4d4;transform:scaleX(0.948);">1M</span>
<span class="t" id="r3m" style="left:85.64px;top:931.70px;font-size:10.8px;color:#d4d4d4;transform:scaleX(0.962);">3M</span>
<span class="t" id="r6m" style="left:108.94px;top:931.70px;font-size:10.8px;color:#d4d4d4;transform:scaleX(0.962);">6M</span>
<span class="t" id="rytd" style="left:132.54px;top:931.70px;font-size:10.8px;color:#d4d4d4;transform:scaleX(0.927);">YTD</span>
<span class="t" id="r1y" style="left:162.04px;top:931.70px;font-size:10.8px;color:#d4d4d4;transform:scaleX(0.902);">1Y</span>
<span class="t" id="r5y" style="left:183.84px;top:931.70px;font-size:10.8px;color:#d4d4d4;transform:scaleX(0.940);">5Y</span>
<span class="t" id="rall" style="left:205.24px;top:931.70px;font-size:10.8px;color:#d4d4d4;transform:scaleX(1.144);">All</span>
<span class="t" id="clock" style="left:1839.14px;top:931.90px;font-size:10.8px;color:#d4d4d4;">09:19:51 UTC+7</span>
<span class="t" id="xh_p" style="left:1881.15px;top:64.90px;font-size:10px;color:#ffffff;transform:scaleX(0.924);">126,489</span>
<span class="t" id="cur_p" style="left:1881.15px;top:476.60px;font-size:10px;color:#ffffff;transform:scaleX(0.928);">87,692</span>
<span class="t" id="cur_t" style="left:1881.15px;top:487.30px;font-size:10px;color:#c9e9e3;transform:scaleX(0.950);">21:40:08</span>
<span class="t" id="vol_l" style="left:1880.86px;top:887.90px;font-size:9.4px;color:#ffffff;transform:scaleX(0.985);">42</span>
<span class="t" id="date_l" style="left:1804.05px;top:905.00px;font-size:10px;color:#ffffff;transform:scaleX(0.917);">Thu 25 Dec '25</span>
<span class="t" id="usd" style="left:1879.84px;top:8.20px;font-size:10px;color:#dbdbdb;transform:scaleX(0.820);">USD</span>
<span class="t" id="tv" style="left:45.66px;top:876.80px;font-size:16px;color:#ffffff;font-weight:700;transform:scaleX(1.013);paint-order:stroke fill;-webkit-text-stroke:2.5px #151515;">TradingView</span>
</div>
</body>
</html>
